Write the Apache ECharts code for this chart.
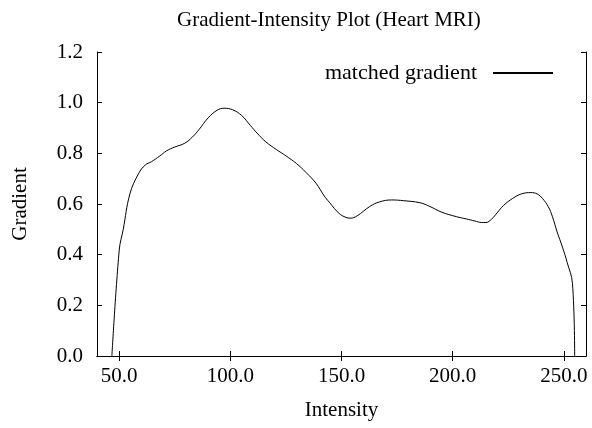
<!DOCTYPE html>
<html>
<head>
<meta charset="utf-8">
<script src="https://cdn.jsdelivr.net/npm/echarts@6/dist/echarts.min.js"></script>
<style>
  html, body { margin: 0; padding: 0; background: #fff; }
  #chart { width: 592px; height: 428px; }
</style>
</head>
<body>
<div id="chart"></div>
<script>
// values
var intensity = [46.7, 50, 51.8, 54.8, 58.7, 61.7, 64.5, 68.3, 71.3, 75, 79.5, 83, 86, 90, 94, 97.2,
  101, 105, 109, 112, 116, 120.7, 125, 129.7, 134, 138.7, 142, 144.7, 148.9, 152, 154, 157,
  162.7, 167, 172.5, 178, 185.3, 189.8, 195, 201.7, 206.2, 210, 213, 215, 217.5, 220, 223, 227,
  231, 235.2, 238, 240.4, 243, 244.9, 247, 249.4, 251.5, 253.9, 254.9];
var gradient = [0, 0.418, 0.50, 0.64, 0.72, 0.754, 0.767, 0.79, 0.81, 0.825, 0.84, 0.865, 0.895, 0.94, 0.97, 0.978,
  0.972, 0.95, 0.91, 0.88, 0.845, 0.815, 0.79, 0.76, 0.725, 0.68, 0.635, 0.605, 0.563, 0.547, 0.544, 0.553,
  0.59, 0.608, 0.616, 0.613, 0.605, 0.59, 0.568, 0.55, 0.541, 0.533, 0.527, 0.527, 0.54, 0.565, 0.595, 0.622,
  0.64, 0.645, 0.64, 0.622, 0.59, 0.55, 0.49, 0.43, 0.37, 0.287, 0];
var xTicks = [50, 100, 150, 200, 250];

var font = 'Liberation Serif';
var fs = 21;

var points = [];
for (var i = 0; i < intensity.length; i++) {
  points.push([intensity[i], gradient[i]]);
}

var myChart = echarts.init(document.getElementById('chart'));

var boxLine = { show: true, lineStyle: { color: '#000', width: 1 } };
var tickStyle = { color: '#000' };

var option = {
  animation: false,
  backgroundColor: '#fff',
  title: {
    text: 'Gradient-Intensity Plot (Heart MRI)',
    left: 172,
    top: 5,
    textStyle: { fontFamily: font, fontSize: fs, fontWeight: 'normal', color: '#000' }
  },
  legend: {
    right: 33,
    top: 57,
    align: 'right',
    itemWidth: 60,
    itemHeight: 2,
    textStyle: { fontFamily: font, fontSize: 22, color: '#000', padding: [0, 11, 0, 0] },
    data: ['matched gradient']
  },
  grid: { left: 97, right: 6, top: 52, bottom: 72 },
  xAxis: [{
    type: 'value',
    min: 40,
    max: 260,
    name: 'Intensity',
    nameLocation: 'middle',
    nameGap: 44,
    nameTextStyle: { fontFamily: font, fontSize: fs, color: '#000' },
    axisLine: boxLine,
    splitLine: { show: false },
    axisTick: { inside: true, length: 5, customValues: xTicks, lineStyle: tickStyle },
    axisLabel: {
      customValues: xTicks,
      margin: 10,
      fontFamily: font, fontSize: fs, color: '#000',
      formatter: function (v) { return v.toFixed(1); }
    }
  }, {
    type: 'value',
    position: 'top',
    min: 40,
    max: 260,
    axisLine: boxLine,
    splitLine: { show: false },
    axisTick: { inside: true, length: 5, customValues: xTicks, lineStyle: tickStyle },
    axisLabel: { show: false }
  }],
  yAxis: [{
    type: 'value',
    min: 0,
    max: 1.2,
    interval: 0.2,
    name: 'Gradient',
    nameLocation: 'middle',
    nameGap: 66,
    nameTextStyle: { fontFamily: font, fontSize: fs, color: '#000' },
    axisLine: boxLine,
    splitLine: { show: false },
    axisTick: { inside: true, length: 5, lineStyle: tickStyle },
    axisLabel: {
      margin: 14,
      fontFamily: font, fontSize: fs, color: '#000',
      formatter: function (v) { return v.toFixed(1); }
    }
  }, {
    type: 'value',
    position: 'right',
    min: 0,
    max: 1.2,
    interval: 0.2,
    axisLine: boxLine,
    splitLine: { show: false },
    axisTick: { inside: true, length: 5, lineStyle: tickStyle },
    axisLabel: { show: false }
  }],
  series: [{
    name: 'matched gradient',
    type: 'line',
    data: points,
    symbol: 'none',
    smooth: 0.4,
    lineStyle: { color: '#000', width: 1 },
    itemStyle: { color: '#000' }
  }]
};

myChart.setOption(option);
</script>
</body>
</html>
